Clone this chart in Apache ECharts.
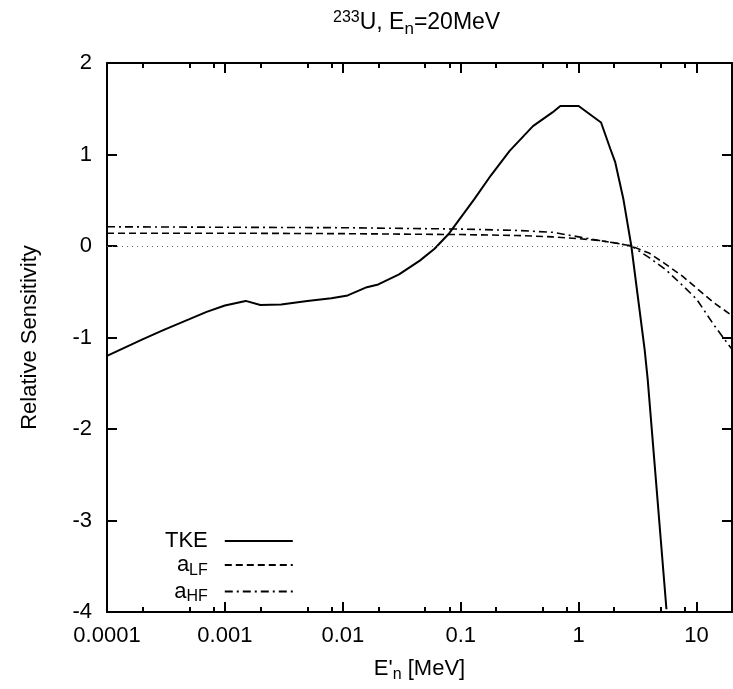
<!DOCTYPE html>
<html>
<head>
<meta charset="utf-8">
<script src="https://cdn.jsdelivr.net/npm/echarts@6/dist/echarts.min.js"></script>
<style>
  html, body { margin: 0; background: #fff; }
  #chart { width: 733px; height: 689px; }
</style>
</head>
<body>
<div id="chart"></div>
<script>
// TKE sensitivity (solid)
const tkeEnergy = [1e-4, 2e-4, 3e-4, 5e-4, 7e-4, 1e-3, 1.5e-3, 2e-3, 3e-3, 5e-3, 8e-3, 0.011, 0.016, 0.02, 0.03, 0.045, 0.06, 0.08, 0.1, 0.13, 0.18, 0.26, 0.41, 0.6, 0.7, 1.0, 1.55, 1.86, 2.04, 2.4, 2.8, 3.63, 3.85, 5.56]
const tkeSens = [-1.2, -1.02, -0.92, -0.8, -0.72, -0.65, -0.6, -0.645, -0.64, -0.6, -0.57, -0.54, -0.45, -0.42, -0.31, -0.16, -0.03, 0.14, 0.31, 0.51, 0.77, 1.04, 1.31, 1.46, 1.53, 1.53, 1.35, 1.06, 0.92, 0.51, 0.0, -1.13, -1.45, -3.97]

// level density parameters (dashed / dash-dot)
const aEnergy = [1e-4, 1e-3, 0.01, 0.1, 0.3, 0.6, 1, 1.5, 2, 2.8, 4, 5.5, 7.6, 10, 14, 20]
const aLfSens = [0.14, 0.14, 0.135, 0.125, 0.115, 0.1, 0.08, 0.06, 0.035, 0.0, -0.08, -0.2, -0.33, -0.46, -0.62, -0.76]
const aHfSens = [0.21, 0.205, 0.2, 0.185, 0.17, 0.15, 0.1, 0.06, 0.035, 0.0, -0.13, -0.26, -0.43, -0.58, -0.86, -1.13]

const xMinorTicks = [2e-4, 5e-4, 8e-4, 2e-3, 5e-3, 8e-3, 0.02, 0.05, 0.08, 0.2, 0.5, 0.8, 2, 5, 8]

const font = '"Liberation Sans", Arial, sans-serif'
const pair = (xs, ys) => xs.map((x, i) => [x, ys[i]])
const legendNames = { TKE: 'TKE', aLF: 'a{s|LF}', aHF: 'a{s|HF}' }

const chart = echarts.init(document.getElementById('chart'))

const frameLine = { show: true, onZero: false, lineStyle: { color: '#000', width: 2 } }
const majorTick = { show: true, inside: true, length: 10, lineStyle: { color: '#000', width: 2 } }

function minorAxis(position) {
  return {
    type: 'value',
    position: position,
    offset: 0,
    min: -4,
    max: Math.log10(20),
    axisLine: { show: false, onZero: false },
    splitLine: { show: false },
    axisLabel: { show: false },
    axisTick: {
      show: true,
      inside: true,
      length: 5,
      customValues: xMinorTicks.map(v => Math.log10(v)),
      lineStyle: { color: '#000', width: 2 }
    }
  }
}

chart.setOption({
  animation: false,
  backgroundColor: '#fff',
  title: {
    text: '{sup|233}U, E{sub|n}=20MeV',
    left: 328,
    top: 3,
    textStyle: {
      fontFamily: font,
      fontSize: 23,
      fontWeight: 'normal',
      color: '#000',
      rich: {
        sup: { fontFamily: font, fontSize: 16, color: '#000', padding: [0, 0, 10, 0] },
        sub: { fontFamily: font, fontSize: 17, color: '#000', padding: [13, 0, 0, 0] }
      }
    }
  },
  grid: {
    left: 107,
    right: 1,
    top: 63,
    bottom: 77,
    containLabel: false
  },
  legend: {
    orient: 'vertical',
    left: 160,
    top: 525,
    align: 'right',
    itemWidth: 68,
    itemHeight: 12,
    itemGap: 2,
    data: ['TKE', 'aLF', 'aHF'],
    formatter: name => legendNames[name],
    itemStyle: { opacity: 0 },
    textStyle: {
      fontFamily: font,
      fontSize: 22,
      color: '#000',
      padding: [0, 12, 0, 0],
      rich: {
        s: { fontFamily: font, fontSize: 16, color: '#000', padding: [11, 0, 0, 0] }
      }
    }
  },
  xAxis: [
    {
      type: 'log',
      logBase: 10,
      min: 1e-4,
      max: 20,
      position: 'bottom',
      name: "E'{s|n} [MeV]",
      nameLocation: 'middle',
      nameGap: 42,
      nameTextStyle: {
        fontFamily: font,
        fontSize: 22,
        color: '#000',
        rich: { s: { fontFamily: font, fontSize: 16, color: '#000', padding: [13, 0, 0, 0] } }
      },
      axisLine: frameLine,
      axisTick: majorTick,
      splitLine: { show: false },
      axisLabel: {
        fontFamily: font,
        fontSize: 22,
        color: '#000',
        margin: 13,
        showMaxLabel: false
      }
    },
    {
      type: 'log',
      logBase: 10,
      min: 1e-4,
      max: 20,
      position: 'top',
      axisLine: frameLine,
      axisTick: majorTick,
      splitLine: { show: false },
      axisLabel: { show: false }
    },
    minorAxis('bottom'),
    minorAxis('top')
  ],
  yAxis: [
    {
      type: 'value',
      min: -4,
      max: 2,
      interval: 1,
      position: 'left',
      name: 'Relative Sensitivity',
      nameLocation: 'middle',
      nameGap: 66,
      nameTextStyle: { fontFamily: font, fontSize: 22, color: '#000' },
      axisLine: frameLine,
      axisTick: majorTick,
      splitLine: { show: false },
      axisLabel: { fontFamily: font, fontSize: 22, color: '#000', margin: 15 }
    },
    {
      type: 'value',
      min: -4,
      max: 2,
      interval: 1,
      position: 'right',
      axisLine: frameLine,
      axisTick: majorTick,
      splitLine: { show: false },
      axisLabel: { show: false }
    }
  ],
  series: [
    {
      name: 'TKE',
      type: 'line',
      data: pair(tkeEnergy, tkeSens),
      symbol: 'none',
      smooth: false,
      clip: true,
      lineStyle: { color: '#000', width: 2 },
      itemStyle: { color: '#000' },
      z: 3,
      markLine: {
        silent: true,
        symbol: 'none',
        label: { show: false },
        lineStyle: { color: '#666', width: 1, type: [1, 4] },
        data: [{ yAxis: 0 }]
      }
    },
    {
      name: 'aLF',
      type: 'line',
      data: pair(aEnergy, aLfSens),
      symbol: 'none',
      lineStyle: { color: '#000', width: 1.6, type: [7, 4] },
      itemStyle: { color: '#000' }
    },
    {
      name: 'aHF',
      type: 'line',
      data: pair(aEnergy, aHfSens),
      symbol: 'none',
      lineStyle: { color: '#000', width: 1.6, type: [8, 4, 2, 4] },
      itemStyle: { color: '#000' }
    }
  ]
})
</script>
</body>
</html>
